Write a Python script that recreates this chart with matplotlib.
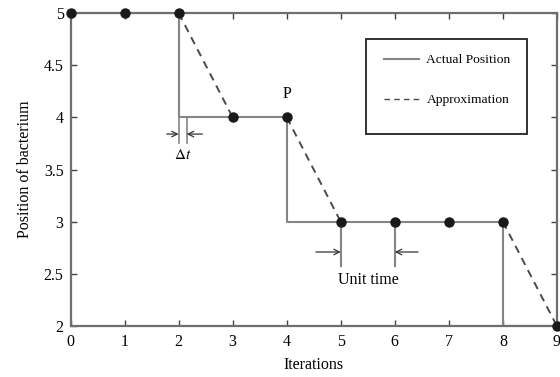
import matplotlib.pyplot as plt
from matplotlib.lines import Line2D
from matplotlib.patches import Rectangle

plt.rcParams['font.family'] = ['Liberation Serif', 'DejaVu Serif']
plt.rcParams['mathtext.fontset'] = 'stix'

# sampled positions at each iteration
iterations = [0, 1, 2, 3, 4, 5, 6, 7, 8, 9]
position = [5, 5, 5, 4, 4, 3, 3, 3, 3, 2]

# actual position as a staircase
step_x = [0, 2, 2, 4, 4, 8, 8, 9]
step_y = [5, 5, 4, 4, 3, 3, 2, 2]

# iterations where the approximation cuts the corner
jump_starts = [2, 4, 8]

line_gray = '#858585'
dash_gray = '#4a4a4a'

fig = plt.figure(figsize=(5.6, 3.77), dpi=100)
ax = fig.add_axes([0.126, 0.135, 0.8685, 0.8305])

ax.plot(step_x, step_y, color=line_gray, lw=1.5, zorder=2)
for x0 in jump_starts:
    i = iterations.index(x0)
    ax.plot(iterations[i:i + 2], position[i:i + 2], color=dash_gray,
            lw=1.4, ls=(0, (4, 3)), zorder=3)
ax.plot(iterations, position, 'o', color='#1a1a1a', ms=6.5, zorder=4,
        clip_on=False)

# delta t marker
ax.plot([2, 2], [4, 3.75], color=line_gray, lw=1.2)
ax.plot([2.15, 2.15], [4, 3.75], color=line_gray, lw=1.2)
arrow = dict(arrowstyle='->', color='#333333', lw=0.9, shrinkA=0, shrinkB=0)
ax.annotate('', xy=(2, 3.84), xytext=(1.78, 3.84), arrowprops=arrow)
ax.annotate('', xy=(2.15, 3.84), xytext=(2.44, 3.84), arrowprops=arrow)
ax.text(2.08, 3.64, r'$\Delta t$', ha='center', va='center', fontsize=11)

# unit time marker
ax.plot([5, 5], [3, 2.58], color=line_gray, lw=1.5)
ax.plot([6, 6], [3, 2.58], color=line_gray, lw=1.5)
ax.annotate('', xy=(5, 2.71), xytext=(4.54, 2.71), arrowprops=arrow)
ax.annotate('', xy=(6, 2.71), xytext=(6.43, 2.71), arrowprops=arrow)
ax.text(5.52, 2.44, 'Unit time', ha='center', va='center', fontsize=11.5)

ax.text(4.0, 4.22, 'P', ha='center', va='center', fontsize=11.5)

ax.set_xlim(0, 9)
ax.set_ylim(2, 5)
ax.set_xticks(iterations)
ax.set_yticks([2, 2.5, 3, 3.5, 4, 4.5, 5])
ax.set_yticklabels(['2', '2.5', '3', '3.5', '4', '4.5', '5'])
ax.tick_params(direction='in', top=True, right=True, length=4, width=1,
               color='#444444', labelsize=11.5)
ax.tick_params(axis='x', pad=6)
ax.tick_params(axis='y', pad=5)
for sp in ax.spines.values():
    sp.set_color('#6e6e6e')
    sp.set_linewidth(1.6)

ax.set_xlabel('Iterations', fontsize=11.5, labelpad=5)
ax.set_ylabel('Position of bacterium', fontsize=11.5, labelpad=8)

# legend entries with a plain box drawn around them
handles = [
    Line2D([], [], color=line_gray, lw=1.5),
    Line2D([], [], color=dash_gray, lw=1.0, ls=(0, (4, 3))),
]
leg = ax.legend(handles, ['Actual Position', 'Approximation'],
                loc='upper left', bbox_to_anchor=(384 / 560, 1 - 54 / 377),
                bbox_transform=fig.transFigure, fontsize=9.7, frameon=False,
                borderpad=0, labelspacing=2.05, handlelength=2.6,
                handletextpad=0.55, borderaxespad=0)
fig.patches.append(Rectangle((366 / 560, 1 - 134 / 377), 161 / 560, 95 / 377,
                             transform=fig.transFigure, fill=False,
                             edgecolor='#222222', lw=1.3, zorder=5))

fig.savefig('out.png', dpi=100)
